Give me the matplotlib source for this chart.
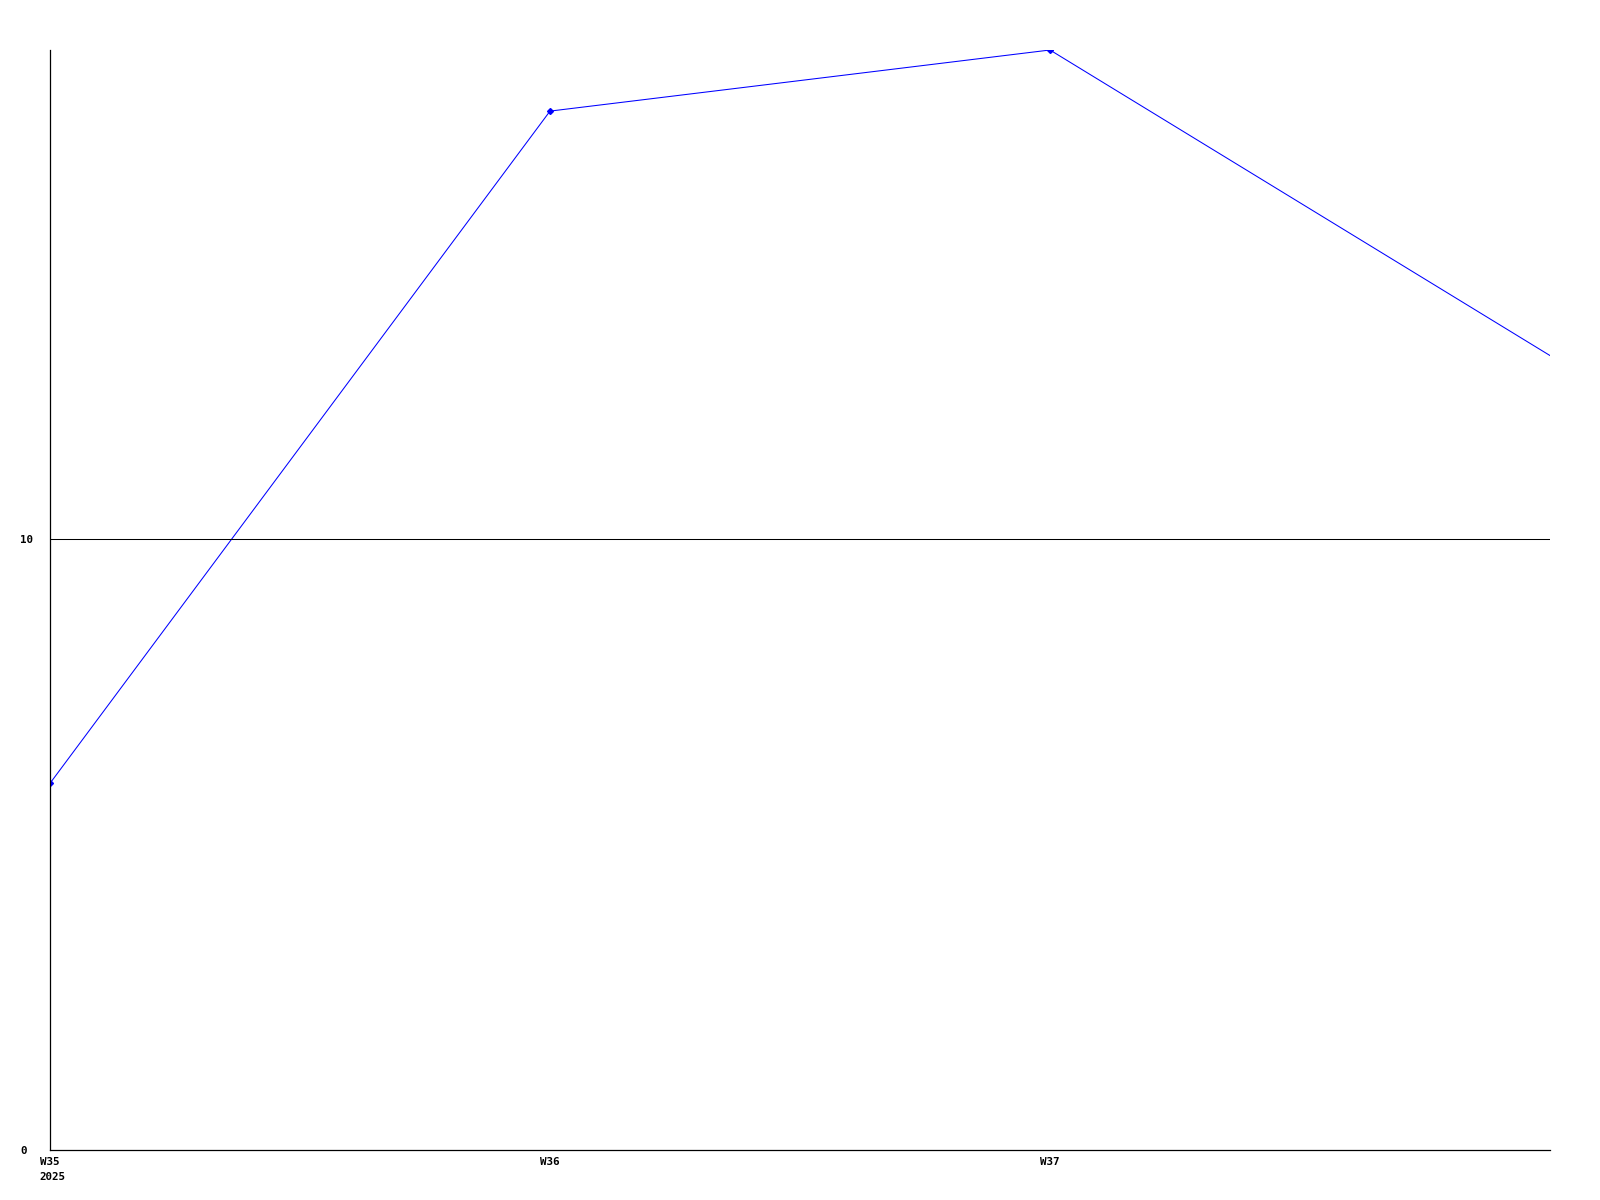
"""Weekly count line chart, week 35-38 of 2025."""

import matplotlib

matplotlib.use("Agg")
from matplotlib import pyplot as plt  # noqa: E402

WEEKS = ["W35", "W36", "W37", "W38"]
COUNTS = [6, 17, 18, 13]
TICK_WEEKS = ["W35", "W36", "W37"]
YEAR_LABEL = "2025"
Y_TICKS = [0, 10]

FONT = {"family": "DejaVu Sans Mono", "weight": "bold", "size": 7.8}

figure = plt.figure(figsize=(16, 12), dpi=100)
axis = figure.add_axes((50 / 1600, 50 / 1200, 1500 / 1600, 1100 / 1200))

positions = list(range(len(WEEKS)))
axis.plot(
    positions,
    COUNTS,
    color="#0000FF",
    linewidth=0.75,
    marker="D",
    markersize=3,
    markevery=list(range(len(TICK_WEEKS))),
    clip_on=True,
)
axis.set_xlim(0, len(WEEKS) - 1)
axis.set_ylim(0, 18)

axis.set_xticks(range(len(TICK_WEEKS)), labels=TICK_WEEKS, fontdict=FONT)
axis.set_yticks(Y_TICKS, labels=[str(v) for v in Y_TICKS], fontdict=FONT)
axis.tick_params(axis="both", length=0)
# labels de y alineados a la izquierda, empiezan ~30 px antes del eje
axis.tick_params(axis="y", pad=21.6)
for label in axis.get_yticklabels():
    label.set_horizontalalignment("left")
axis.tick_params(axis="x", pad=5)
axis.annotate(
    YEAR_LABEL,
    xy=(0, 0),
    xycoords="data",
    xytext=(-11, -22),
    textcoords="offset pixels",
    ha="left",
    va="top",
    **FONT,
)

axis.axhline(10, color="black", linewidth=0.75)
for side in ("top", "right"):
    axis.spines[side].set_visible(False)
for side in ("left", "bottom"):
    axis.spines[side].set_linewidth(0.9)
    axis.spines[side].set_color("black")

figure.savefig("out.png", dpi=100, facecolor="white")
plt.close(figure)
